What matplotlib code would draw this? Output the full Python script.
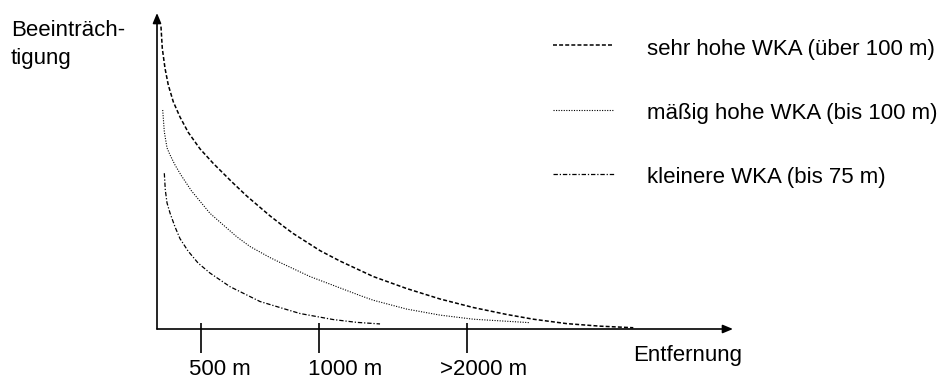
import matplotlib
matplotlib.use("Agg")
import matplotlib.pyplot as plt

plt.rcParams['font.family'] = ['Liberation Sans', 'DejaVu Sans']

# schematic values (x: Entfernung 0-100, y: Beeinträchtigung 0-100)
sehr_hoch_x = [0.69, 0.92, 1.39, 1.96, 2.83, 3.99, 5.43, 7.47, 9.77, 12.97, 15.57, 19.62, 21.88,
               23.66, 28.30, 31.77, 37.55, 43.35, 49.13, 54.91, 60.71, 65.33, 71.13, 76.91, 82.69]
sehr_hoch_y = [95.7, 88.8, 82.5, 77.2, 71.9, 67.1, 62.2, 57.0, 52.4, 46.6, 42.1, 35.8, 32.6,
               30.2, 24.8, 21.5, 16.6, 12.8, 9.5, 6.8, 4.6, 3.1, 1.7, 0.9, 0.4]

maessig_x = [0.99, 1.27, 1.74, 2.26, 3.13, 4.17, 5.99, 9.20, 13.84, 16.15, 19.62, 21.88, 26.56,
             29.46, 31.77, 35.24, 37.55, 43.35, 49.13, 54.91, 64.76]
maessig_y = [69.3, 62.4, 57.3, 55.1, 51.9, 48.7, 43.7, 36.6, 29.2, 26.1, 22.6, 20.6, 16.6,
             14.6, 13.0, 10.6, 9.1, 6.3, 4.4, 3.1, 2.0]

klein_x = [1.27, 1.44, 1.74, 2.26, 3.13, 3.99, 5.38, 7.12, 9.20, 12.67, 17.88, 21.88, 24.83,
           30.56, 34.67, 38.72]
klein_y = [49.3, 44.0, 39.9, 36.7, 32.3, 28.6, 24.7, 20.9, 17.7, 13.4, 8.7, 6.5, 4.9,
           3.0, 2.1, 1.6]

tick_pos = [7.6, 28.1, 53.8]
tick_labels = ['500 m', '1000 m', '>2000 m']

series_labels = ['sehr hohe WKA (über 100 m)',
                 'mäßig hohe WKA (bis 100 m)',
                 'kleinere WKA (bis 75 m)']

W, H = 944, 378
fig = plt.figure(figsize=(W / 100, H / 100), dpi=100)

# main schematic axes: y axis at px 157, x axis at px 329, arrows end at 733 / 13
ax = fig.add_axes([157 / W, (H - 329) / H, (733 - 157) / W, (329 - 13) / H])
ax.set_xlim(0, 100)
ax.set_ylim(0, 100)
ax.axis('off')

styles = [
    dict(lw=1.1, dashes=(2.6, 1.4)),
    dict(lw=0.8, dashes=(1.0, 1.3)),
    dict(lw=0.9, dashes=(3.5, 1.5, 1.0, 1.5)),
]

for (xs, ys), st in zip([(sehr_hoch_x, sehr_hoch_y), (maessig_x, maessig_y), (klein_x, klein_y)], styles):
    ax.plot(xs, ys, color='black', clip_on=False, dash_joinstyle='round', **st)

arrow = dict(arrowstyle='-|>,head_length=0.6,head_width=0.25', color='black',
             lw=1.2, shrinkA=0, shrinkB=0, mutation_scale=10)
ax.annotate('', xy=(100, 0), xytext=(0, 0), arrowprops=arrow, annotation_clip=False)
ax.annotate('', xy=(0, 100), xytext=(0, 0), arrowprops=arrow, annotation_clip=False)

ax.vlines(tick_pos, -7.6, 2.0, color='black', lw=1.2, clip_on=False)
label_shift = [-2.1, -1.9, -4.7]
for p, s, lab in zip(tick_pos, label_shift, tick_labels):
    ax.text(p + s, -14.5, lab, fontsize=16, ha='left', va='baseline', clip_on=False)

# overlay in pixel coordinates for free text and legend
ov = fig.add_axes([0, 0, 1, 1])
ov.set_xlim(0, W)
ov.set_ylim(H, 0)
ov.axis('off')

ov.text(11, 36, 'Beeinträch-', fontsize=16, va='baseline')
ov.text(11, 64, 'tigung', fontsize=16, va='baseline')
ov.text(633, 361.5, 'Entfernung', fontsize=16, va='baseline')

for row_y, st, lab in zip([45, 110, 174], styles, series_labels):
    ov.plot([553, 614], [row_y, row_y], color='black', **st)
    ov.text(647, row_y + 9.5, lab, fontsize=16, va='baseline')

fig.savefig('out.png', dpi=100)
